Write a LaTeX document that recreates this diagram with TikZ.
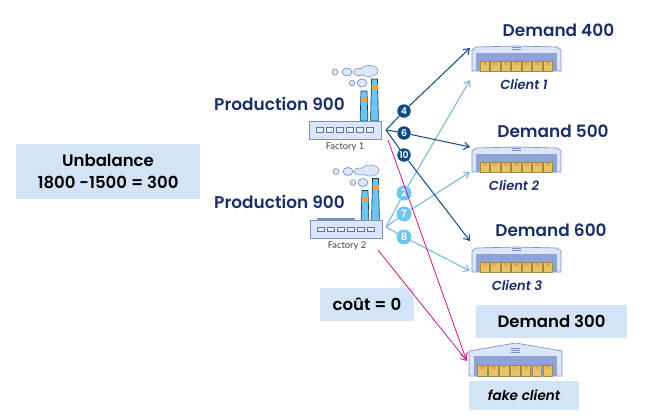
\documentclass[tikz,border=0pt]{standalone}
\usepackage{fontspec}
\usetikzlibrary{arrows.meta}
\setmainfont{Poppins SemiBold}[ItalicFont={Poppins SemiBold Italic},BoldFont={Poppins SemiBold}]
\newfontfamily\smallfont{Lato}
\definecolor{navy}{HTML}{1B2F66}
\definecolor{dkblue}{HTML}{0F4C81}
\definecolor{ltblue}{HTML}{86BBD8}
\definecolor{skyb}{HTML}{6EC5EE}
\definecolor{mag}{HTML}{C2188B}
\definecolor{boxb}{HTML}{D3E4F6}
\definecolor{bodyb}{HTML}{DCE6FA}
\definecolor{edgeb}{HTML}{7C90C4}
\definecolor{bandb}{HTML}{8FA3D4}
\definecolor{cartc}{HTML}{E6C468}
\definecolor{cartd}{HTML}{A08A4A}
\definecolor{orng}{HTML}{F0A04B}
\tikzset{
  x=0.75pt,y=-0.75pt,
  every node/.append style={inner sep=0pt},
  head/.style={font=\fontsize{12.7}{15}\selectfont,text=navy},
  cbox/.style={fill=boxb,font=\fontsize{12.4}{16}\selectfont,text=black,align=center},
  clabel/.style={font=\fontsize{9.8}{11}\selectfont\itshape,text=navy},
  flabel/.style={font=\smallfont\fontsize{7}{8}\selectfont,text=black!75},
  dkbadge/.style={circle,fill=dkblue,text=white,minimum size=13.5*0.75pt,font=\fontsize{7}{7}\selectfont},
  ltbadge/.style={circle,fill=skyb,text=white,minimum size=15*0.75pt,font=\fontsize{7.6}{7}\selectfont},
  dkline/.style={draw=dkblue,line width=0.75pt},
  ltline/.style={draw=ltblue,line width=0.9pt},
  magline/.style={draw=mag,line width=0.6pt},
  arr/.style={-{Straight Barb[length=4pt,width=5.5pt]}},
  wall/.style={fill=bodyb,draw=edgeb,line width=0.5pt},
  smoke/.style={fill=bodyb,draw=edgeb,line width=0.5pt},
  crates/.style={fill=cartc,draw=cartd,line width=0.4pt},
  pics/factory/.style={code={
    \draw[smoke] (26,-49) circle (3);
    \draw[smoke] (38,-49) ellipse (5 and 4);
    \draw[smoke] (50,-49) ellipse (6 and 3.5);
    \draw[smoke] (60,-50) ellipse (9 and 5.5);
    \fill[bodyb] (50,-49) ellipse (5.5 and 3);
    \fill[bodyb] (60,-50) ellipse (8.5 and 5);
    \draw[smoke] (43,-38) circle (2.8);
    \draw[smoke] (53,-38) ellipse (5 and 4);
    \foreach \cx/\top in {55/-30,65.5/-42}{
      \draw[fill=skyb,draw=dkblue!80!black,line width=0.5pt] (\cx-3,\top) -- (\cx+3,\top) -- (\cx+3.9,0) -- (\cx-3.9,0) -- cycle;
      \fill[orng] (\cx-3,\top+6) rectangle (\cx+3,\top+11);
    }
    \draw[wall,line width=0.7pt] (0,0) rectangle (72,18);
    \foreach \i in {0,...,5}
      \draw[draw=edgeb!80!black,fill=bodyb!70!white,line width=0.6pt] (7.5+\i*10,6.7) rectangle ++(7.3,4.2);
  }},
  pics/depot/.style={code={
    \draw[wall] (0,25) -- (0,4) -- (4,1) -- (44.5,0) -- (85,1) -- (89,4) -- (89,25) -- cycle;
    \fill[bandb] (4,7) rectangle (85,25);
    \draw[edgeb,line width=0.4pt] (40,1.5) -- (49,1.5) (40,3.5) -- (49,3.5);
    \foreach \i in {0,...,6}{
      \draw[crates] (8+\i*10.55,15) rectangle ++(9.4,10);
      \fill[orng] (10.5+\i*10.55,15.5) rectangle ++(4.4,3.5);
    }
  }},
  pics/gabledepot/.style={code={
    \draw[wall] (0,33) -- (0,8) -- (46.5,0) -- (93,8) -- (93,33) -- cycle;
    \fill[bandb] (5,13) rectangle (88,33);
    \draw[edgeb,line width=0.5pt] (42,5) -- (51,5) (42,7) -- (51,7) (42,9) -- (51,9);
    \foreach \i in {0,...,6}{
      \draw[crates] (8.5+\i*10.9,22) rectangle ++(9.6,11);
      \fill[orng] (11+\i*10.9,22.5) rectangle ++(4.6,3.5);
    }
  }}
}
\begin{document}
\begin{tikzpicture}
\useasboundingbox (0,0) rectangle (659,419);
\node[cbox,minimum width=184*0.75pt,minimum height=55*0.75pt] (unb) at (108,171.5) {Unbalance\\1800 -1500 = 300};
\node[cbox,minimum width=94*0.75pt,minimum height=33*0.75pt] (cout) at (367,304.5) {coût = 0};
\node[cbox,minimum width=151*0.75pt,minimum height=33*0.75pt] (d300) at (551.5,321.5) {Demand 300};
\node[cbox,minimum width=110*0.75pt,minimum height=29*0.75pt,font=\fontsize{10.2}{11}\selectfont\itshape] (fake) at (524,395.5) {fake client};
\node[head] (p1) at (279.5,104) {Production 900};
\node[head] (p2) at (279.5,202) {Production 900};
\node[head] (d400) at (558.5,30) {Demand 400};
\node[head] (d500) at (553,131) {Demand 500};
\node[head] (d600) at (551,230) {Demand 600};
\pic at (309,121) {factory};
\fill[edgeb] (317,218) rectangle (355,221);
\pic at (310,220.5) {factory};
\node[flabel] (f1) at (345,146.5) {Factory 1};
\node[flabel] (f2) at (347,246) {Factory 2};
\pic at (472,46) {depot};
\pic at (472,147) {depot};
\pic at (472,247) {depot};
\pic at (469,343) {gabledepot};
\node[clabel] (c1) at (524,84) {Client 1};
\node[clabel] (c2) at (514,185) {Client 2};
\node[clabel] (c3) at (517,285) {Client 3};
\coordinate (h1) at (386,130);
\coordinate (h2) at (386,227);
\coordinate (t1a) at (470,48);
\coordinate (t1b) at (470,147);
\coordinate (t1c) at (470,241);
\coordinate (t2a) at (470,80);
\coordinate (t2b) at (470,172);
\coordinate (t2c) at (470,271);
\coordinate (m1) at (388,140);
\coordinate (m2) at (378,250);
\coordinate (me1) at (466,359);
\coordinate (me2) at (467,361);
\node[ltbadge] (b3) at (404,193) {2};
\node[ltbadge] (b7) at (404,214) {7};
\node[ltbadge] (b8) at (404,237) {8};
\draw[ltline] (h2) -- (b3);
\draw[ltline] (h2) -- (b7);
\draw[ltline] (h2) -- (b8);
\draw[ltline,arr] (b3) -- (t2a);
\draw[ltline,arr] (b7) -- (t2b);
\draw[ltline,arr] (b8) -- (t2c);
\draw[magline,arr] (m1) -- (me1);
\draw[magline,arr] (m2) -- (me2);
\node[dkbadge] (b4) at (404,111) {4};
\node[dkbadge] (b6) at (404,133) {6};
\node[dkbadge] (b10) at (404,155) {10};
\draw[dkline] (h1) -- (b4);
\draw[dkline] (h1) -- (b6);
\draw[dkline] (h1) -- (b10);
\draw[dkline,arr] (b4) -- (t1a);
\draw[dkline,arr] (b6) -- (t1b);
\draw[dkline,arr] (b10) -- (t1c);
\end{tikzpicture}
\end{document}
